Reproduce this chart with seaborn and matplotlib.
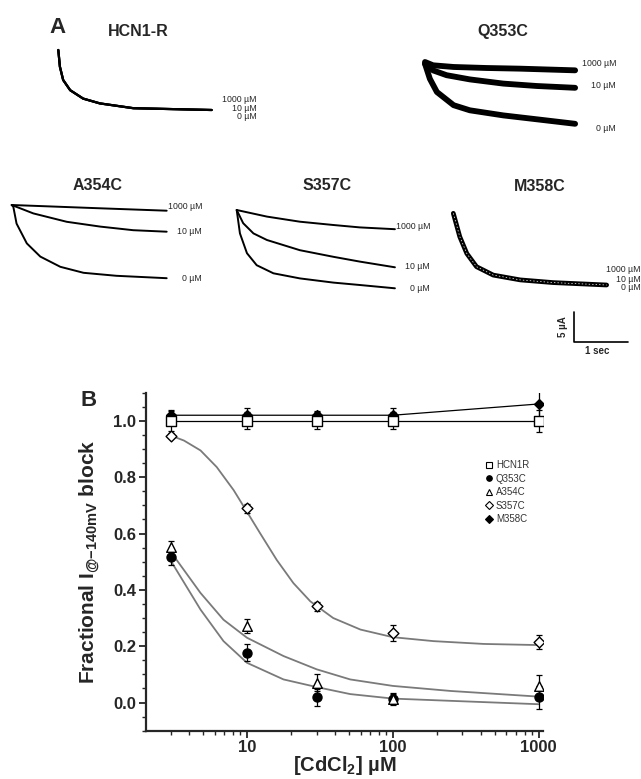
### HCN1 cysteine mutants: Cd2+ block traces (A) and dose-response (B)
import numpy as np
import seaborn as sns
import matplotlib.pyplot as plt
from matplotlib.lines import Line2D
from matplotlib.ticker import MultipleLocator, FixedLocator, LogLocator, NullFormatter

###~~~~~~~~~~~~~~~~~~~~~~~~~~~~~~~~~~~~~~~~~~~~~~~~~~~~~~~~~~~~~~~~~~~~~~~~~~~~
# Panel A: current traces (time in s, current in uA relative to trace start)
hcn1r_t = [0, 0.03, 0.09, 0.22, 0.46, 0.77, 1.39, 2.84]
hcn1r_i = [0, -2.8, -5.0, -6.7, -8.1, -8.9, -9.7, -10.0]   # 0, 10 and 1000 uM overlap

q353c_t_1000 = [0, 0.15, 0.53, 1.14, 1.76, 2.78]
q353c_i_1000 = [0, -0.55, -0.83, -1.0, -1.11, -1.39]
q353c_t_10 = [0, 0.15, 0.4, 0.83, 1.45, 2.07, 2.78]
q353c_i_10 = [-0.3, -1.4, -2.2, -2.9, -3.6, -4.0, -4.3]
q353c_t_0 = [0, 0.09, 0.22, 0.53, 0.83, 1.45, 2.07, 2.78]
q353c_i_0 = [-0.3, -2.8, -5.0, -7.2, -8.05, -8.9, -9.55, -10.3]

a354c_t_1000 = [0, 1.64, 2.87]
a354c_i_1000 = [0, -0.55, -0.95]
a354c_t_10 = [0, 0.4, 1.02, 1.64, 2.25, 2.87]
a354c_i_10 = [0, -1.4, -2.8, -3.6, -4.2, -4.45]
a354c_t_0 = [0, 0.03, 0.09, 0.28, 0.53, 0.9, 1.33, 1.94, 2.87]
a354c_i_0 = [0, -0.3, -3.1, -6.4, -8.6, -10.3, -11.3, -11.8, -12.2]

s357c_t_1000 = [0, 0.56, 1.17, 1.79, 2.28, 2.93]
s357c_i_1000 = [0, -1.1, -1.95, -2.5, -2.9, -3.2]
s357c_t_10 = [0, 0.12, 0.31, 0.56, 1.17, 1.79, 2.28, 2.93]
s357c_i_10 = [0, -2.2, -3.9, -5.0, -6.7, -7.8, -8.6, -9.55]
s357c_t_0 = [0, 0.06, 0.19, 0.37, 0.68, 1.17, 1.79, 2.28, 2.93]
s357c_i_0 = [0, -3.9, -7.2, -9.2, -10.55, -11.4, -12.1, -12.5, -13.05]

m358c_t = [0, 0.12, 0.25, 0.43, 0.74, 1.24, 1.85, 2.84]
m358c_i = [0, -3.9, -6.7, -8.9, -10.3, -11.1, -11.55, -11.95]  # all concentrations overlap

dose_labels = ["1000 \u00b5M", "10 \u00b5M", "0 \u00b5M"]
scale_t = 1     # s
scale_i = 5     # uA

###~~~~~~~~~~~~~~~~~~~~~~~~~~~~~~~~~~~~~~~~~~~~~~~~~~~~~~~~~~~~~~~~~~~~~~~~~~~~
# Panel B: fractional current vs [CdCl2]
conc = [3, 10, 30, 100, 1000]
hcn1r = [1.00, 1.00, 1.00, 1.00, 1.00]
hcn1r_err = [0.035, 0.03, 0.03, 0.03, 0.04]
q353c = [0.518, 0.177, 0.018, 0.012, 0.018]
q353c_err = [0.03, 0.03, 0.03, 0.02, 0.04]
a354c = [0.553, 0.271, 0.071, 0.014, 0.059]
a354c_err = [0.02, 0.025, 0.03, 0.02, 0.04]
s357c = [0.948, 0.689, 0.341, 0.247, 0.214]
s357c_err = [0.01, 0.015, 0.015, 0.03, 0.025]
m358c = [1.02, 1.02, 1.02, 1.02, 1.06]
m358c_err = [0.02, 0.025, 0.015, 0.025, 0.045]

# fitted curves
s357c_fit_x = [3, 3.7, 4.8, 6.2, 8.1, 10, 12.3, 16, 20.8, 27.2, 39, 60, 100, 190, 420, 1000]
s357c_fit_y = [0.948, 0.930, 0.895, 0.836, 0.754, 0.677, 0.601, 0.506, 0.424, 0.359,
               0.300, 0.259, 0.232, 0.218, 0.208, 0.204]
a354c_fit_x = [3.1, 4.8, 6.9, 10, 17.8, 30, 51, 100, 250, 1000]
a354c_fit_y = [0.525, 0.389, 0.294, 0.230, 0.165, 0.118, 0.082, 0.059, 0.041, 0.021]
q353c_fit_x = [3.07, 4.8, 6.9, 10, 17.8, 30, 51, 100, 250, 1000]
q353c_fit_y = [0.495, 0.330, 0.218, 0.141, 0.082, 0.055, 0.030, 0.014, 0.006, -0.006]

x_ticks = [10, 100, 1000]

###~~~~~~~~~~~~~~~~~~~~~~~~~~~~~~~~~~~~~~~~~~~~~~~~~~~~~~~~~~~~~~~~~~~~~~~~~~~~
sns.set_style("ticks")
plt.rcParams['font.family'] = ['Liberation Sans', 'DejaVu Sans']
plt.rcParams['mathtext.fontset'] = 'custom'
plt.rcParams['mathtext.rm'] = 'Liberation Sans:bold'
plt.rcParams['mathtext.it'] = 'Liberation Sans:bold'
plt.rcParams['mathtext.bf'] = 'Liberation Sans:bold'

W, H = 641, 779
PX_PER_S = 54.0
PX_PER_UA = 6.0
fig = plt.figure(figsize=(W / 100, H / 100), dpi=100)


def fx(x):
    return x / W


def fy(y):
    return 1 - y / H


def trace_axes(x0, y0, t_span, i_span):
    """Invisible axes whose origin (t=0, I=0) sits at pixel (x0, y0) on a common scale."""
    w = t_span * PX_PER_S
    h = i_span * PX_PER_UA
    ax = fig.add_axes([fx(x0), fy(y0 + h), w / W, h / H])
    ax.set_xlim(0, t_span)
    ax.set_ylim(-i_span, 0)
    ax.axis('off')
    return ax


def draw_trace(ax, t, i, lw=1.4):
    sns.lineplot(x=t, y=i, ax=ax, color='black', lw=lw, clip_on=False)


# --- panel A
ax = trace_axes(58.3, 50, 2.9, 10.5)
for _ in dose_labels:
    draw_trace(ax, hcn1r_t, hcn1r_i, lw=1.6)

ax = trace_axes(425, 62, 2.85, 11)
draw_trace(ax, q353c_t_1000, q353c_i_1000, lw=4.2)
draw_trace(ax, q353c_t_10, q353c_i_10, lw=4.2)
draw_trace(ax, q353c_t_0, q353c_i_0, lw=4.2)

ax = trace_axes(11.7, 205, 2.9, 12.5)
draw_trace(ax, a354c_t_1000, a354c_i_1000)
draw_trace(ax, a354c_t_10, a354c_i_10)
draw_trace(ax, a354c_t_0, a354c_i_0)

ax = trace_axes(236.7, 210, 2.95, 13.5)
draw_trace(ax, s357c_t_1000, s357c_i_1000)
draw_trace(ax, s357c_t_10, s357c_i_10)
draw_trace(ax, s357c_t_0, s357c_i_0)

ax = trace_axes(453.3, 213.3, 2.9, 12.5)
draw_trace(ax, m358c_t, m358c_i, lw=3.4)
sns.lineplot(x=m358c_t, y=m358c_i, ax=ax, color='white', lw=0.5, ls=(0, (2, 3)), clip_on=False)

# scale bar
sb = fig.add_axes([fx(574.3), fy(341.7), scale_t * PX_PER_S / W, scale_i * PX_PER_UA / H])
sns.lineplot(x=[0, 0, scale_t], y=[scale_i, 0, 0], ax=sb, color='black', lw=1.2,
             sort=False, estimator=None, clip_on=False)
sb.set_xlim(0, scale_t)
sb.set_ylim(0, scale_i)
sb.axis('off')
sb.text(-0.2, 0.5, "5 \u00b5A", rotation=90, ha='center', va='center',
        fontsize=7, fontweight='bold', transform=sb.transAxes)
sb.text(0.42, -0.32, "1 sec", ha='center', va='center',
        fontsize=7, fontweight='bold', transform=sb.transAxes)

# titles and concentration labels
fig.text(fx(58), fy(27.5), "A", fontsize=16, fontweight='bold', ha='center', va='center')
titles = [("HCN1-R", 138, 31.7), ("Q353C", 503.3, 31.7), ("A354C", 97.5, 186),
          ("S357C", 326.7, 186), ("M358C", 540, 186.7)]
for name, x, y in titles:
    fig.text(fx(x), fy(y), name, fontsize=11.5, fontweight='bold', ha='center', va='center')

label_pos = [(257, [99.3, 108.3, 116.7]), (616, [63.3, 85, 128.3]),
             (202, [206.7, 231.7, 278.3]), (430, [226.7, 266.7, 288.3]),
             (641, [270, 279, 287.5])]
for x, ys in label_pos:
    for lbl, y in zip(dose_labels, ys):
        fig.text(fx(x), fy(y), lbl, fontsize=6.3, ha='right', va='center')

###~~~~~~~~~~~~~~~~~~~~~~~~~~~~~~~~~~~~~~~~~~~~~~~~~~~~~~~~~~~~~~~~~~~~~~~~~~~~
# --- panel B
axb = fig.add_axes([fx(146), fy(730.7), 396.7 / W, 338 / H])
fit_grey = '#7a7a7a'
sns.lineplot(x=s357c_fit_x, y=s357c_fit_y, ax=axb, color=fit_grey, lw=1.3, zorder=1)
sns.lineplot(x=a354c_fit_x, y=a354c_fit_y, ax=axb, color=fit_grey, lw=1.3, zorder=1)
sns.lineplot(x=q353c_fit_x, y=q353c_fit_y, ax=axb, color=fit_grey, lw=1.3, zorder=1)
sns.lineplot(x=conc, y=m358c, ax=axb, color='black', lw=0.9, zorder=2)
sns.lineplot(x=conc, y=hcn1r, ax=axb, color='black', lw=0.9, zorder=2)

# (values, errors, marker, face, size, label, zorder) -- later rows drawn on top
series = [
    (m358c, m358c_err, 'D', 'black', 25, 'M358C', 3),
    (hcn1r, hcn1r_err, 's', 'white', 48, 'HCN1R', 5),
    (q353c, q353c_err, 'o', 'black', 42, 'Q353C', 3),
    (a354c, a354c_err, '^', 'white', 48, 'A354C', 5),
    (s357c, s357c_err, 'D', 'white', 30, 'S357C', 5),
]
handles = {}
for vals, err, mk, fc, size, name, z in series:
    axb.errorbar(conc, vals, yerr=err, fmt='none', ecolor='black', elinewidth=0.9,
                 capsize=2.5, capthick=0.9, zorder=z)
    sns.scatterplot(x=conc, y=vals, ax=axb, marker=mk, s=size, color=fc,
                    edgecolor='black', linewidth=1.0, zorder=z + 0.5)
    handles[name] = Line2D([], [], ls='none', marker=mk, markersize=4, markerfacecolor=fc,
                           markeredgecolor='black', markeredgewidth=0.8, label=name)

axb.set_xscale('log')
axb.set_xlim(2.03, 1065)
axb.set_ylim(-0.1, 1.1)
axb.xaxis.set_major_locator(FixedLocator(x_ticks))
axb.set_xticklabels([str(v) for v in x_ticks])
axb.xaxis.set_minor_locator(LogLocator(base=10, subs=np.arange(2, 10)))
axb.xaxis.set_minor_formatter(NullFormatter())
axb.yaxis.set_major_locator(MultipleLocator(0.2))
axb.yaxis.set_minor_locator(MultipleLocator(0.05))
axb.tick_params(which='major', length=5, width=1.3, labelsize=12, pad=2)
axb.tick_params(which='minor', length=3, width=1.0)
for lbl in axb.get_xticklabels() + axb.get_yticklabels():
    lbl.set_fontweight('bold')
sns.despine(ax=axb)
for side in ['left', 'bottom']:
    axb.spines[side].set_linewidth(1.6)

axb.set_ylabel("Fractional I$_{@{-}140mV}$ block", fontsize=15, fontweight='bold', labelpad=8)
axb.set_xlabel("[CdCl$_2$] \u00b5M", fontsize=14.5, fontweight='bold', labelpad=-1)

legend_order = ['HCN1R', 'Q353C', 'A354C', 'S357C', 'M358C']
leg = axb.legend(handles=[handles[n] for n in legend_order], loc='upper left',
                 bbox_to_anchor=(0.855, 0.80), frameon=False, fontsize=7,
                 handlelength=0.8, handletextpad=0.3, labelspacing=0.35,
                 borderpad=0, borderaxespad=0)
for txt in leg.get_texts():
    txt.set_color('#333333')

fig.text(fx(89), fy(400.5), "B", fontsize=16, fontweight='bold', ha='center', va='center')

fig.savefig("out.png", dpi=100)
